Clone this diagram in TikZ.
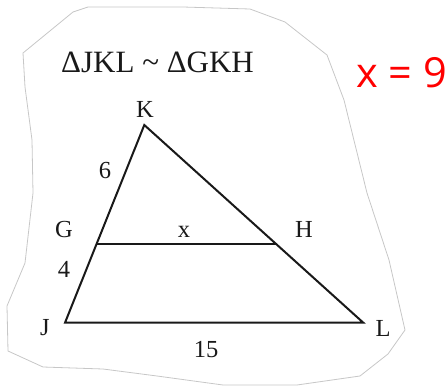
\documentclass[tikz,border=0pt]{standalone}
\usepackage{fontspec}
\setmainfont{Liberation Serif}
\newfontfamily\redfont{Open Sans}
\usetikzlibrary{calc}
\begin{document}
\begin{tikzpicture}[x=1pt,y=-1pt,
  outline/.style={draw=black!22, line width=0.8pt},
  tri/.style={draw=black!90, line width=2pt},
  lbl/.style={inner sep=0pt, anchor=base, font=\fontsize{24.5}{24.5}\selectfont, text=black!90},
  ttl/.style={inner sep=0pt, anchor=base west, font=\fontsize{31}{31}\selectfont, text=black!90},
  ans/.style={inner sep=0pt, anchor=base west, font=\redfont\fontsize{41.5}{41.5}\selectfont, text=red}]
\useasboundingbox (0,0) rectangle (448,386);
% paper cut-out outline
\draw[outline] (23,53) -- (73,12) -- (88,7) -- (183,7) -- (250,9) -- (285,22) -- (327,55)
  -- (344,100) -- (367,193) -- (389,260) -- (405,330) -- (388,354) -- (360,376)
  -- (297,385) -- (223,385) -- (157,376) -- (103,369) -- (43,367) -- (8,351)
  -- (7,306) -- (25,263) -- (33,193) -- (32,140) -- (25,87) -- cycle;
% triangle
\coordinate (K) at (144.3,125);
\coordinate (J) at (65,322.7);
\coordinate (L) at (363.3,322.7);
\coordinate (G) at ($(K)!0.6!(J)$);
\coordinate (H) at ($(K)!0.6!(L)$);
\draw[tri, line join=miter] (K) -- (J) -- (L) -- cycle;
\draw[tri] (G) -- (H);
% labels
\node[ttl] (title) at (61,72) {ΔJKL \textasciitilde\ ΔGKH};
\node[lbl] (lK) at (145,117) {K};
\node[lbl] (l6) at (105,178) {6};
\node[lbl] (lG) at (64,237) {G};
\node[lbl] (lx) at (184,237) {x};
\node[lbl] (lH) at (304,237) {H};
\node[lbl] (l4) at (64,277) {4};
\node[lbl] (lJ) at (45,335) {J};
\node[lbl] (lL) at (383,336) {L};
\node[lbl] (l15) at (206,357) {15};
\node[ans] (answer) at (356,87) {x = 9};
\end{tikzpicture}
\end{document}
